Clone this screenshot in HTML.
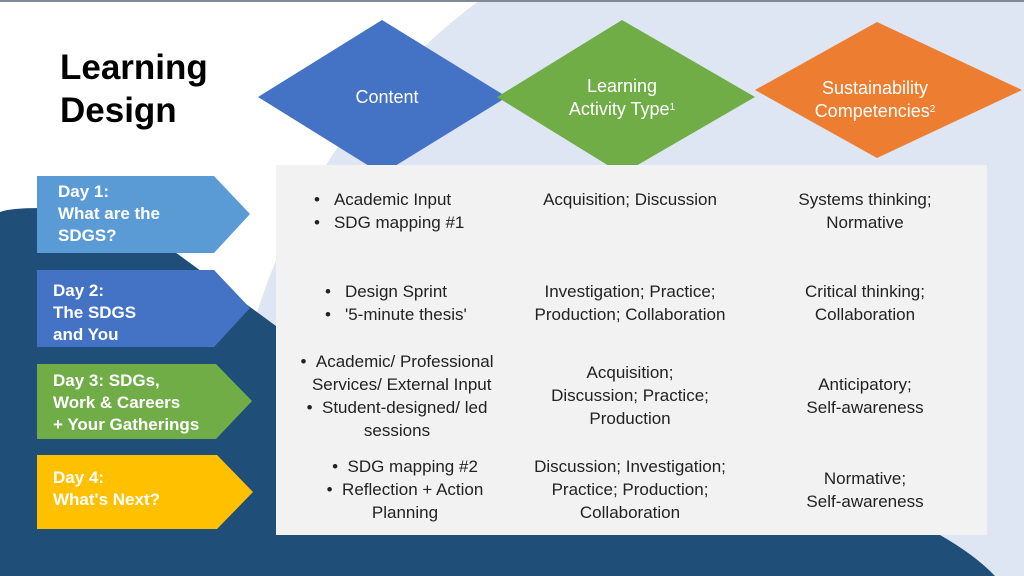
<!DOCTYPE html>
<html><head><style>
body{margin:0;width:1024px;height:576px;overflow:hidden;background:#fff;font-family:"Liberation Sans",Arial,sans-serif;position:relative}
svg{position:absolute;left:0;top:0}
.t{position:absolute;color:#222;font-size:17px;line-height:23px;text-align:center}
.w{position:absolute;color:#fff;font-size:17px;line-height:22px;font-weight:bold}
.h{position:absolute;color:#fff;font-size:18px;line-height:23px;text-align:center}
sup{font-size:10px;vertical-align:top;position:relative;top:-2px}
ul{margin:0;padding:0;list-style:none}
li:before{content:"•";margin-right:14px}
</style></head><body>
<svg width="1024" height="576">
<circle cx="850" cy="500" r="622" fill="#dee6f3"/>
<rect x="0" y="0" width="1024" height="2" fill="#7f8a96"/>
<path d="M0,212 Q10,208 40,208 L175,252 L276,326 L276,535 L940,535 Q975,555 995,576 L0,576 Z" fill="#1f4e79"/>
<polygon points="258,97 382,20 507,97 382,174" fill="#4472c4"/>
<polygon points="497,97 622,20 755,97 622,174" fill="#70ad47"/>
<polygon points="755,90 877,22 1022,90 877,158" fill="#ed7d31"/>
<rect x="276" y="165" width="711" height="370" fill="#f2f2f2"/>
<polygon points="37,176 214,176 250,214 214,253 37,253" fill="#5b9bd5"/>
<polygon points="37,270 214,270 250,308 214,347 37,347" fill="#4472c4"/>
<polygon points="37,364 216,364 252,401 216,439 37,439" fill="#70ad47"/>
<polygon points="37,455 217,455 253,492 217,529 37,529" fill="#ffc000"/>
</svg>
<div style="position:absolute;left:60px;top:46px;font-size:35px;font-weight:bold;line-height:43px;color:#000">Learning<br>Design</div>
<div class="h" style="left:322px;top:86px;width:130px">Content</div>
<div class="h" style="left:552px;top:75px;width:140px">Learning<br>Activity Type<sup>1</sup></div>
<div class="h" style="left:800px;top:77px;width:150px">Sustainability<br>Competencies<sup>2</sup></div>
<div class="w" style="left:58px;top:181px">Day 1:<br>What are the<br>SDGS?</div>
<div class="w" style="left:53px;top:280px">Day 2:<br>The SDGS<br>and You</div>
<div class="w" style="left:53px;top:370px">Day 3: SDGs,<br>Work &amp; Careers<br>+ Your Gatherings</div>
<div class="w" style="left:53px;top:467px">Day 4:<br>What's Next?</div>
<div class="t" style="left:314px;top:188px;width:200px;text-align:left"><ul><li>Academic Input</li><li>SDG mapping #1</li></ul></div>
<div class="t" style="left:510px;top:188px;width:240px">Acquisition; Discussion</div>
<div class="t" style="left:770px;top:188px;width:190px">Systems thinking;<br>Normative</div>
<div class="t" style="left:325px;top:280px;width:200px;text-align:left"><ul><li>Design Sprint</li><li>'5-minute thesis'</li></ul></div>
<div class="t" style="left:510px;top:280px;width:240px">Investigation; Practice;<br>Production; Collaboration</div>
<div class="t" style="left:770px;top:280px;width:190px">Critical thinking;<br>Collaboration</div>
<div class="t" style="left:282px;top:350px;width:230px">• &nbsp;Academic/ Professional<br>&nbsp;&nbsp;Services/ External Input<br>• &nbsp;Student-designed/ led<br>sessions</div>
<div class="t" style="left:510px;top:361px;width:240px">Acquisition;<br>Discussion; Practice;<br>Production</div>
<div class="t" style="left:770px;top:373px;width:190px">Anticipatory;<br>Self-awareness</div>
<div class="t" style="left:290px;top:455px;width:230px">• &nbsp;SDG mapping #2<br>• &nbsp;Reflection + Action<br>Planning</div>
<div class="t" style="left:510px;top:455px;width:240px">Discussion; Investigation;<br>Practice; Production;<br>Collaboration</div>
<div class="t" style="left:770px;top:467px;width:190px">Normative;<br>Self-awareness</div>
</body></html>
